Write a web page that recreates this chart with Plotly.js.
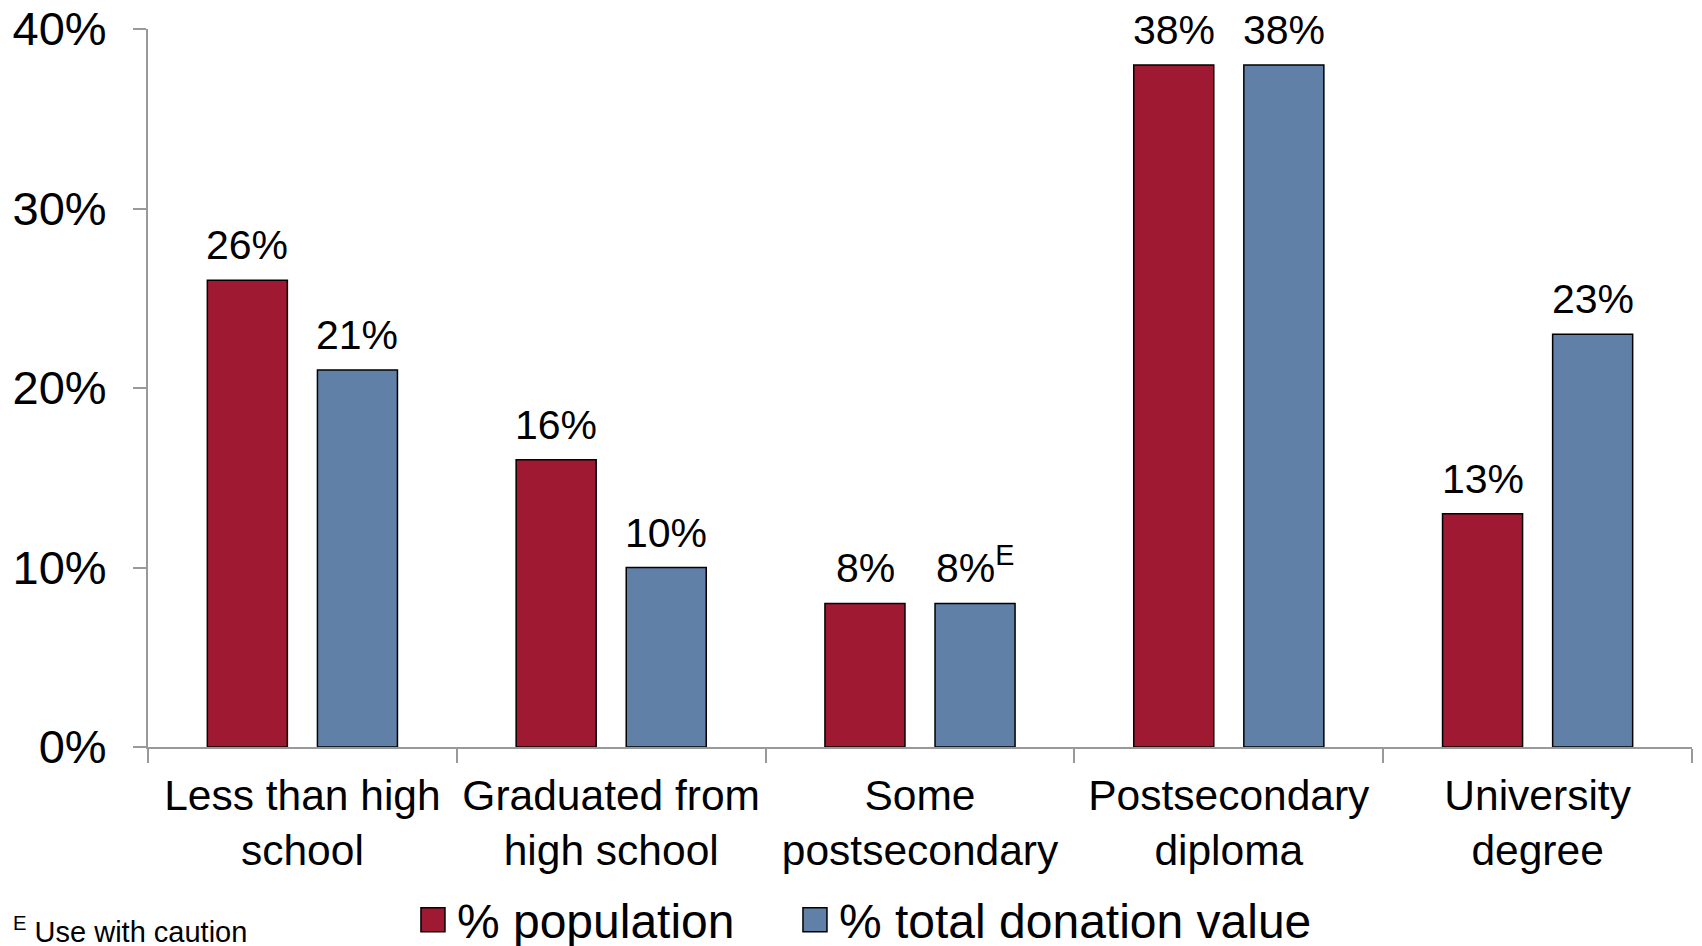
<!DOCTYPE html>
<html>
<head>
<meta charset="utf-8">
<script src="https://cdn.plot.ly/plotly-3.0.1.min.js"></script>
<style>
  html, body { margin: 0; padding: 0; background: #fff; }
  #chart { width: 1702px; height: 946px; }
</style>
</head>
<body>
<div id="chart"></div>
<script>
const categories = [
  'Less than high<br>school',
  'Graduated from<br>high school',
  'Some<br>postsecondary',
  'Postsecondary<br>diploma',
  'University<br>degree'
];
const populationPct = [26, 16, 8, 38, 13];
const donationPct = [21, 10, 8, 38, 23];
// estimates flagged "use with caution"
const donationFlag = ['', '', 'E', '', ''];
const yTicks = [0, 10, 20, 30, 40];

const font = 'Liberation Sans, Arial, sans-serif';
const red = '#A01932';
const blue = '#6080A7';

const traces = [
  {
    type: 'bar',
    name: '% population',
    x: categories,
    y: populationPct,
    legendwidth: 337,
    marker: { color: red, line: { color: '#000', width: 1.5 } },
    hoverinfo: 'none'
  },
  {
    type: 'bar',
    name: '% total donation value',
    x: categories,
    y: donationPct,
    marker: { color: blue, line: { color: '#000', width: 1.5 } },
    hoverinfo: 'none'
  }
];

// value labels above the bars
const labels = [];
categories.forEach((c, i) => {
  labels.push({
    x: c, y: populationPct[i], xref: 'x', yref: 'y',
    text: populationPct[i] + '%', showarrow: false,
    xshift: -55, yanchor: 'bottom', yshift: 10,
    font: { family: font, size: 41, color: '#000' }
  });
  const sup = donationFlag[i] ? '<sup>' + donationFlag[i] + '</sup>' : '';
  labels.push({
    x: c, y: donationPct[i], xref: 'x', yref: 'y',
    text: donationPct[i] + '%' + sup, showarrow: false,
    xshift: 55, yanchor: 'bottom', yshift: 10,
    font: { family: font, size: 41, color: '#000' }
  });
});
labels.push({
  xref: 'paper', yref: 'paper', x: -0.089, y: -0.2545,
  xanchor: 'left', yanchor: 'middle', showarrow: false,
  text: '<sup>E</sup> Use with caution',
  font: { family: font, size: 29, color: '#000' }
});

const layout = {
  width: 1702,
  height: 946,
  margin: { l: 148, r: 10, t: 29, b: 199, autoexpand: false },
  paper_bgcolor: '#fff',
  plot_bgcolor: '#fff',
  font: { family: font, color: '#000' },
  barmode: 'group',
  bargap: 0.287,
  bargroupgap: 0.273,
  showlegend: true,
  legend: {
    orientation: 'h',
    x: 0.1742, xanchor: 'left',
    y: -0.241, yanchor: 'middle',
    font: { family: font, size: 48, color: '#000' },
    itemwidth: 30,
    bgcolor: 'rgba(0,0,0,0)'
  },
  xaxis: {
    type: 'category',
    tickson: 'boundaries',
    ticks: 'outside',
    ticklen: 14,
    tickwidth: 2,
    tickcolor: '#999',
    showline: true,
    linecolor: '#999',
    linewidth: 2,
    showgrid: false,
    zeroline: false,
    automargin: false,
    ticklabelstandoff: 10,
    tickfont: { family: font, size: 42.5, color: '#000' },
    fixedrange: true
  },
  yaxis: {
    range: [0, 40],
    tickvals: yTicks,
    ticktext: yTicks.map(v => v + '%'),
    ticks: 'outside',
    ticklen: 13,
    tickwidth: 2,
    tickcolor: '#999',
    showline: true,
    linecolor: '#999',
    linewidth: 2,
    showgrid: false,
    zeroline: false,
    automargin: false,
    ticklabelstandoff: 17,
    tickfont: { family: font, size: 47, color: '#000' },
    fixedrange: true
  },
  annotations: labels
};

Plotly.newPlot('chart', traces, layout, { displayModeBar: false, staticPlot: true }).then(gd => {
  // legend swatches are a fixed 12px square; the original uses 24px ones
  gd.querySelectorAll('.legend .legendpoints path').forEach(p => {
    p.setAttribute('d', 'M8,12H-16V-12H8Z');
    p.style.strokeWidth = '1.5px';
  });
});
</script>
</body>
</html>
